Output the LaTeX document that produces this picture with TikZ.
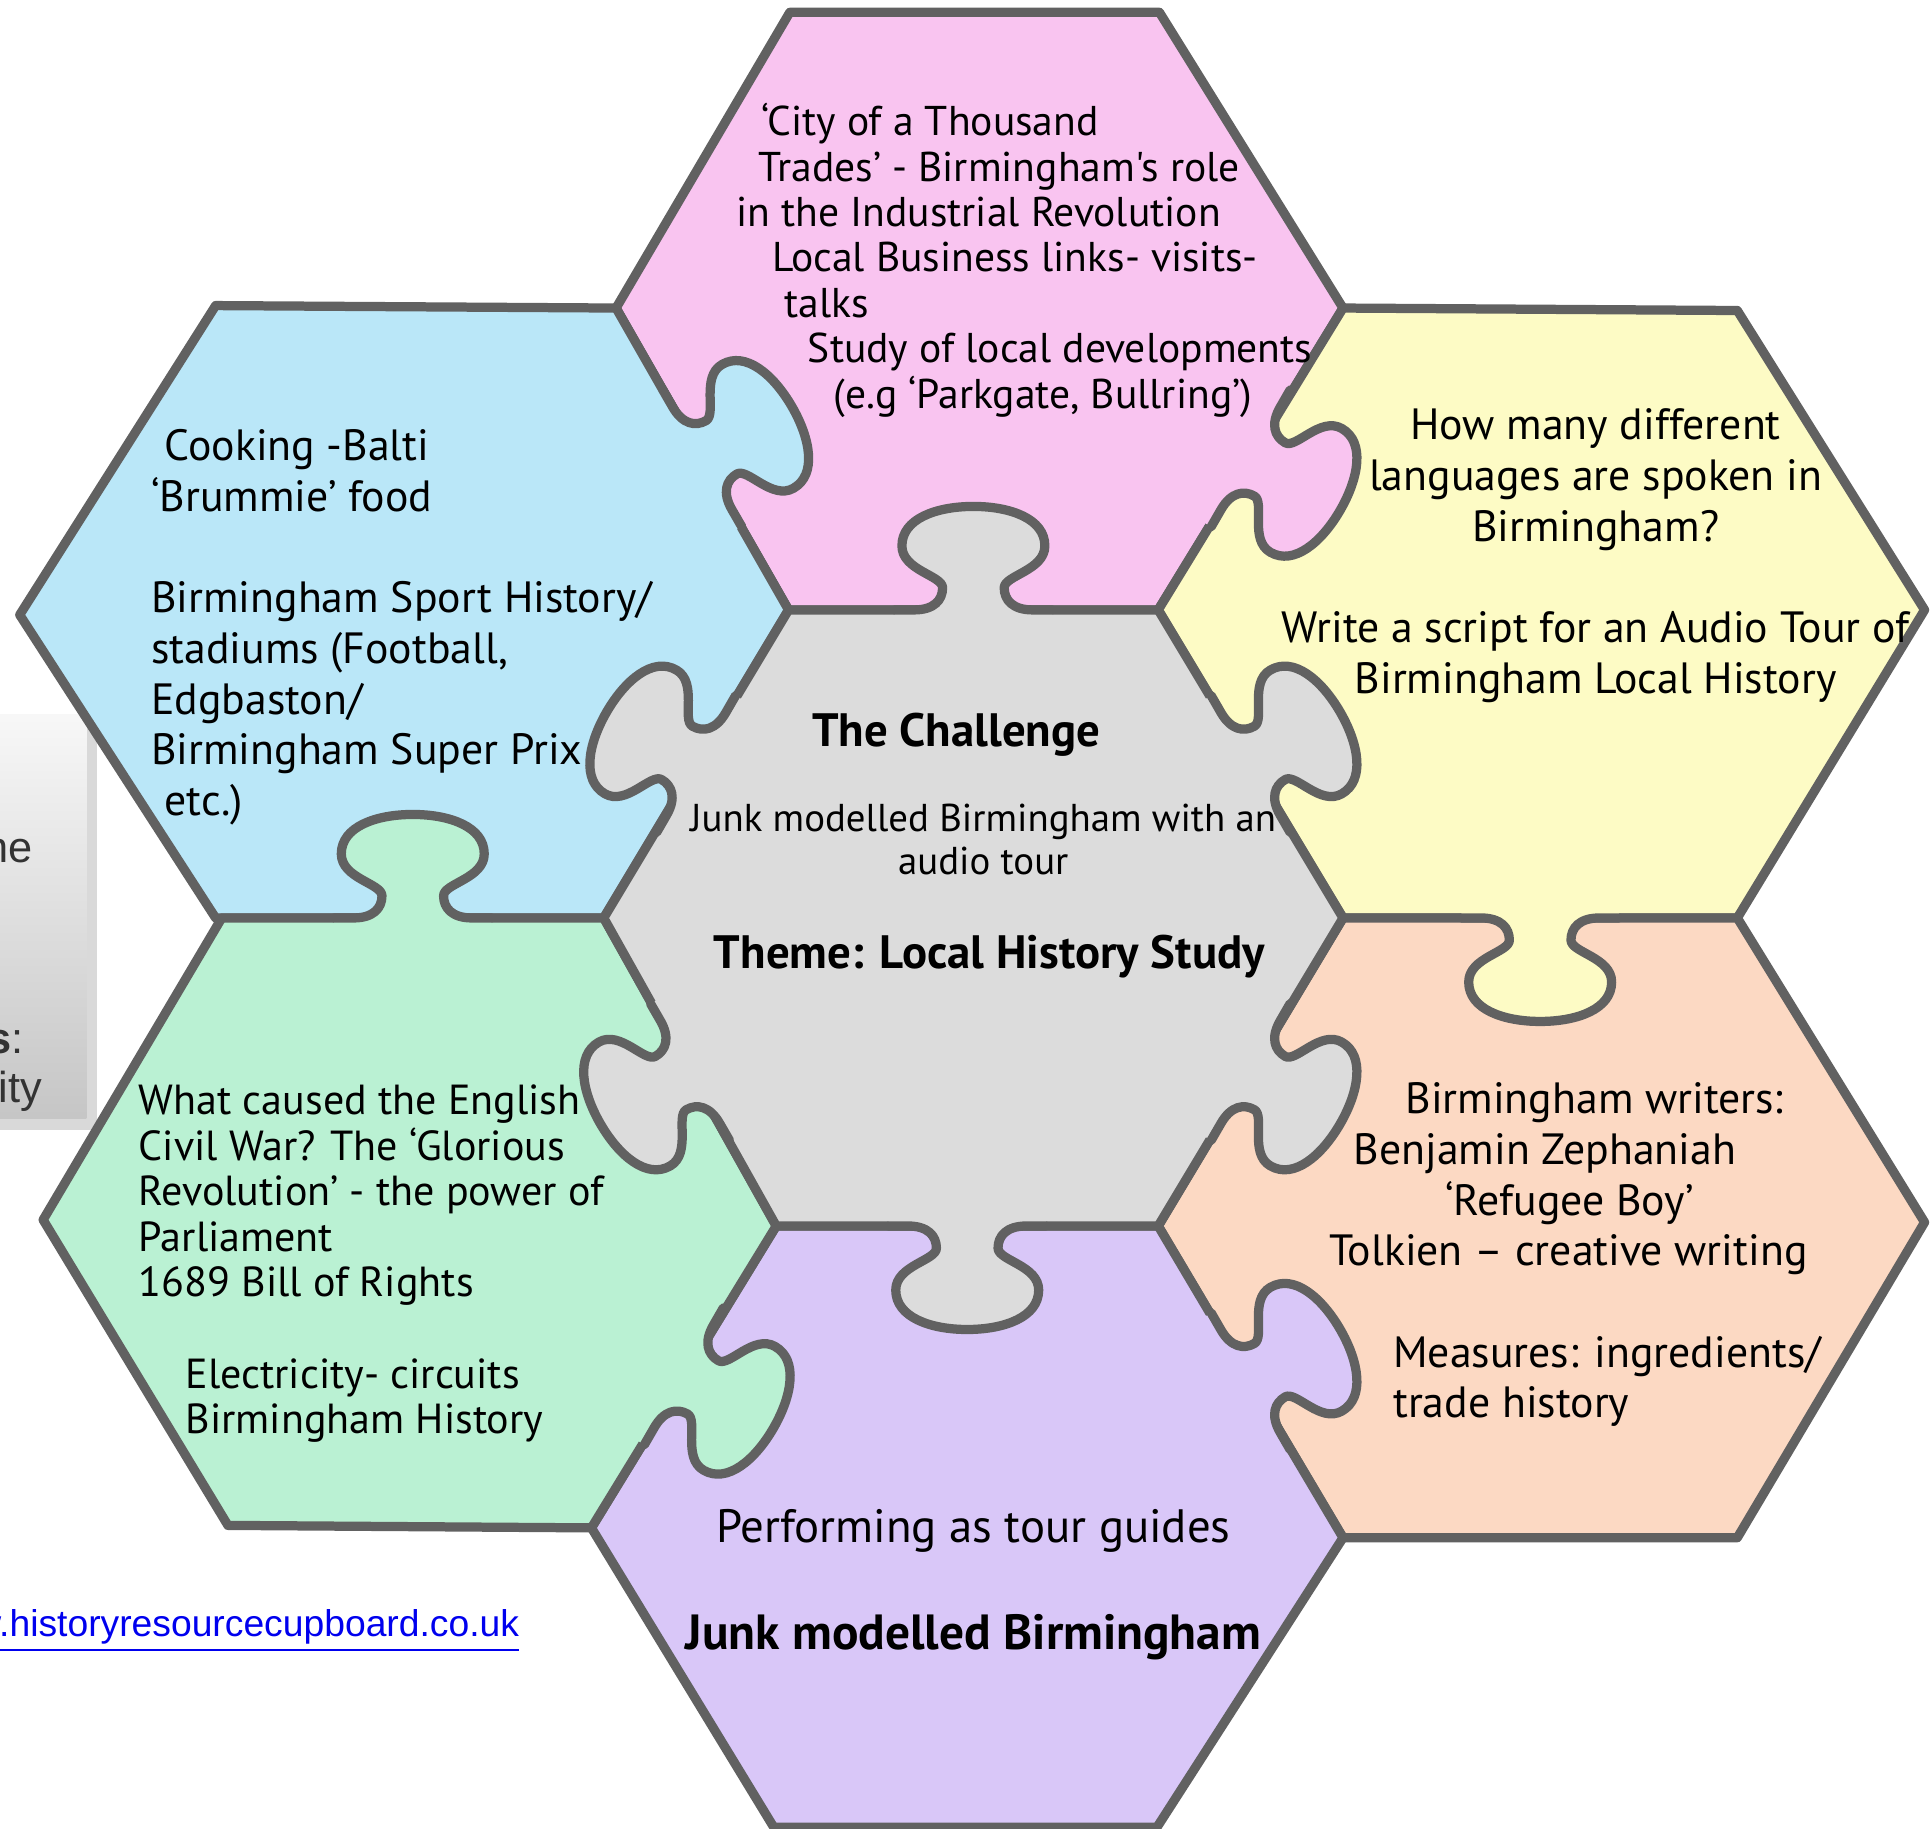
\documentclass[tikz,border=0pt]{standalone}
\usepackage{fontspec}
\setmainfont{PT Sans}[Ligatures=TeXOff]
\newfontfamily\linkfont{Liberation Sans}
\usetikzlibrary{shadows}

\definecolor{pinkfill}{HTML}{F9C4F0}
\definecolor{bluefill}{HTML}{BAE7F8}
\definecolor{yellowfill}{HTML}{FDFBC5}
\definecolor{greyfill}{HTML}{DCDCDC}
\definecolor{peachfill}{HTML}{FCD9C3}
\definecolor{purplefill}{HTML}{D9C7F8}
\definecolor{greenfill}{HTML}{BAF1D3}
\definecolor{linegray}{HTML}{616161}
\definecolor{linkblue}{HTML}{0000EE}

\newcommand{\ind}[1]{\hspace*{#1mm}}

\tikzset{
    rim/.style={draw=linegray, line width=0.075cm, line join=round, line cap=round},
    knob shape/.style={insert path={
        -- (-48,0) .. controls (-32,0) and (-25,8) .. (-25,18)
        .. controls (-25,28) and (-58,32) .. (-58,52)
        .. controls (-58,74) and (-30,84) .. (0,84)
        .. controls (30,84) and (58,74) .. (58,52)
        .. controls (58,32) and (25,28) .. (25,18)
        .. controls (25,8) and (32,0) .. (48,0) -- (64,0)}},
    pics/knob/.style={code={
        \fill[#1] (-64,-6) -- (-64,0) [knob shape] -- (64,-6) -- cycle;
        \draw[rim] (-64,0) [knob shape];
    }},
    blurb/.style={inner sep=0pt, align=left, anchor=north west},
    title/.style={inner sep=0pt, anchor=base, font=\bfseries\fontsize{10.8}{13}\selectfont}
}

\begin{document}
\begin{tikzpicture}[x=0.01cm, y=-0.01cm]
    \useasboundingbox (0,0) rectangle (1568,1484);

    % side box, mostly off the page
    \fill[top color=white!97!black, bottom color=gray!45, drop shadow={opacity=0.3}] (-40,580) rectangle (70,908);

    % the seven pieces
    \filldraw[rim, fill=pinkfill] (641,10) -- (941,10) -- (1090,250) -- (940,495) -- (640,495) -- (500,250) -- cycle;
    \filldraw[rim, fill=bluefill] (175,248) -- (500,250) -- (640,495) -- (490,745) -- (175,745) -- (16,499) -- cycle;
    \filldraw[rim, fill=yellowfill] (1090,250) -- (1410,252) -- (1562,495) -- (1410,745) -- (1090,745) -- (940,495) -- cycle;
    \filldraw[rim, fill=peachfill] (1090,745) -- (1410,745) -- (1562,992) -- (1410,1248) -- (1090,1248) -- (940,995) -- cycle;
    \filldraw[rim, fill=purplefill] (630,995) -- (940,995) -- (1090,1248) -- (939,1483) -- (628,1483) -- (480,1240) -- cycle;
    \filldraw[rim, fill=greenfill] (180,745) -- (490,745) -- (630,995) -- (480,1240) -- (185,1238) -- (35,990) -- cycle;
    \filldraw[rim, fill=greyfill] (640,495) -- (940,495) -- (1090,745) -- (940,995) -- (630,995) -- (490,745) -- cycle;

    % tabs
    \pic[rotate=180] at (790,495) {knob=greyfill};
    \pic at (785,995) {knob=greyfill};
    \pic[rotate=120] at (1015,620) {knob=greyfill};
    \pic[rotate=60] at (1015,870) {knob=greyfill};
    \pic[rotate=300] at (560,870) {knob=greyfill};
    \pic[rotate=240] at (565,620) {knob=greyfill};
    \pic[rotate=120] at (570,372) {knob=bluefill};
    \pic[rotate=60] at (1015,372) {knob=pinkfill};
    \pic at (1250,745) {knob=yellowfill};
    \pic[rotate=120] at (1015,1121) {knob=purplefill};
    \pic[rotate=60] at (555,1117) {knob=greenfill};
    \pic[rotate=180] at (335,745) {knob=greenfill};

    % texts
    \node[blurb, font=\fontsize{9.6}{10.5}\selectfont] (trades) at (597,83) {%
        \ind{2}‘City of a Thousand\\
        \ind{1.8}Trades’ - Birmingham's role\\
        in the Industrial Revolution\\
        \ind{2.9}Local Business links- visits-\\
        \ind{3.9}talks\\
        \ind{5.8}Study of local developments\\
        \ind{7.9}(e.g ‘Parkgate, Bullring’)};
    \node[blurb, font=\fontsize{10.1}{11.7}\selectfont] (food) at (122,348) {%
        \ind{1.1}Cooking -Balti\\
        ‘Brummie’ food\\[0.41cm]
        Birmingham Sport History/\\
        stadiums (Football,\\
        Edgbaston/\\
        Birmingham Super Prix\\
        \ind{1.1}etc.)};
    \node[blurb, anchor=north, align=center, font=\fontsize{10.1}{11.7}\selectfont] (lang) at (1295,331) {%
        How many different\\
        languages are spoken in\\
        Birmingham?\\[0.41cm]
        Write a script for an Audio Tour of\\
        Birmingham Local History};
    \node[title] (chal) at (776,606) {The Challenge};
    \node[blurb, anchor=north, align=center, font=\fontsize{8.96}{9.96}\selectfont] (junk) at (798,652) {%
        Junk modelled Birmingham with an\\
        audio tour};
    \node[title] (theme) at (803,786) {Theme: Local History Study};
    \node[blurb, font=\fontsize{9.7}{10.5}\selectfont] (war) at (112,880) {%
        What caused the English\\
        Civil War? The ‘Glorious\\
        Revolution’ - the power of\\
        Parliament\\
        1689 Bill of Rights\\[0.37cm]
        \ind{3.8}Electricity- circuits\\
        \ind{3.8}Birmingham History};
    \node[blurb, font=\fontsize{10.1}{11.7}\selectfont] (writers) at (1078,878) {%
        \ind{6.2}Birmingham writers:\\
        \ind{2}Benjamin Zephaniah\\
        \ind{9.4}‘Refugee Boy’\\
        Tolkien – creative writing\\[0.41cm]
        \ind{5.2}Measures: ingredients/\\
        \ind{5.2}trade history};
    \node[inner sep=0pt, anchor=base, font=\fontsize{10.8}{13}\selectfont] (guides) at (790,1252) {Performing as tour guides};
    \node[inner sep=0pt, anchor=base, font=\bfseries\fontsize{11.4}{14}\selectfont] (model) at (790,1339) {Junk modelled Birmingham};

    % cut-off side text and link
    \node[inner sep=0pt, anchor=base east, font=\linkfont\fontsize{10}{12}\selectfont, text=black!80] (sa) at (27,700) {ne};
    \node[inner sep=0pt, anchor=base east, font=\linkfont\fontsize{10}{12}\selectfont, text=black!80] (sb) at (20,855) {\textbf{s}:};
    \node[inner sep=0pt, anchor=base east, font=\linkfont\fontsize{10}{12}\selectfont, text=black!80] (sc) at (35,895) {ity};
    \node[inner sep=0pt, anchor=base east, font=\linkfont\fontsize{8.6}{10}\selectfont, text=linkblue] (link) at (422,1328) {\underline{www.historyresourcecupboard.co.uk}};
\end{tikzpicture}
\end{document}
